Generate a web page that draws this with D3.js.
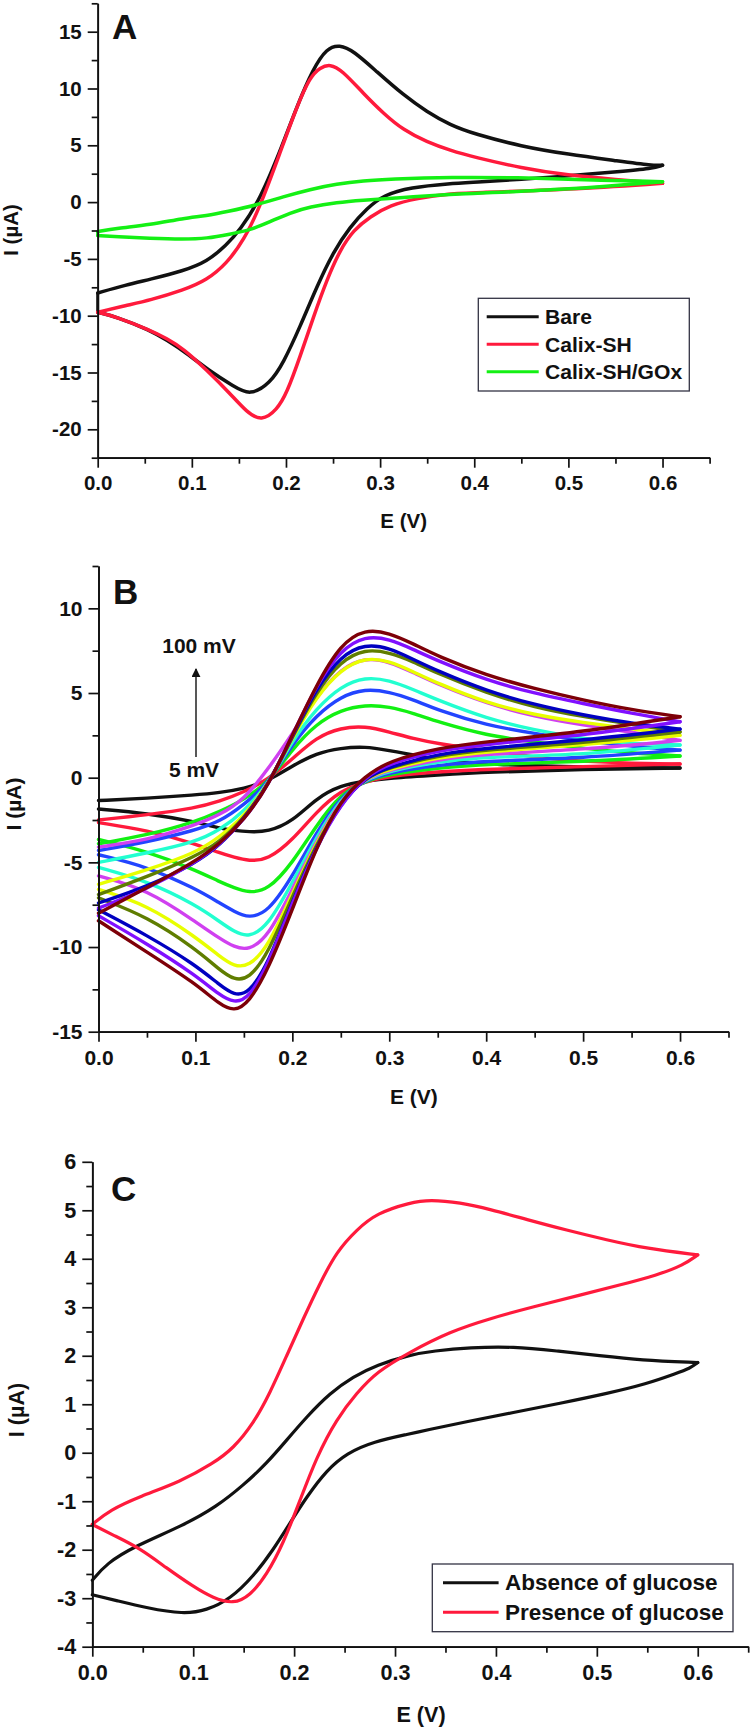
<!DOCTYPE html>
<html>
<head>
<meta charset="utf-8">
<script src="https://cdnjs.cloudflare.com/ajax/libs/d3/7.8.5/d3.min.js"></script>
<style>
  body { margin: 0; background: #fff; }
  svg { display: block; }
  text { font-family: "Liberation Sans", Arial, sans-serif; font-weight: bold; fill: #111; }
</style>
</head>
<body>
<svg width="753" height="1730"></svg>
<script>
// Panel A, each voltammogram as two branches (up = oxidation sweep, down = return sweep)
const eBareUp = [0, .03, .0556, .091, .116, .137, .151, .1725, .197, .2115, .229, .2433, .2568, .2717, .2965, .3248, .3496, .3745, .4, .45, .5, .55, .59, .6]
const iBareUp = [-8, -7.3, -6.8, -6.05, -5.25, -3.78, -2.46, .2, 5.17, 8.4, 11.77, 13.55, 13.85, 13.32, 11.47, 9.42, 7.95, 6.78, 6, 4.9, 4.2, 3.65, 3.2, 3.25]
const eBareDown = [.6, .59, .55, .5, .45, .4, .3745, .332, .3036, .2859, .2681, .2504, .2327, .215, .197, .1831, .1618, .1441, .1193, .0946, .0733, .0556, .02, 0]
const iBareDown = [3.25, 2.95, 2.65, 2.3, 2, 1.75, 1.64, 1.3, .62, -.56, -2.17, -4.37, -7.45, -10.97, -14.2, -15.95, -17.05, -16.2, -14.9, -13.3, -12.15, -11.27, -10.1, -9.7]

const eCalixUp = [0, .03, .0556, .091, .116, .137, .1553, .1725, .1934, .2115, .2256, .2363, .2469, .2593, .2823, .3036, .3248, .3496, .3745, .4, .45, .5, .55, .6]
const iCalixUp = [-9.7, -9.1, -8.63, -7.75, -6.87, -5.4, -3.35, -.4, 4.28, 8.4, 11.03, 11.85, 12.15, 11.62, 9.56, 7.8, 6.34, 5.3, 4.55, 3.95, 3, 2.35, 2, 1.65]
const eCalixDown = [.6, .5, .4, .3745, .339, .3107, .2894, .2717, .2575, .2433, .2292, .215, .2008, .1902, .1742, .1583, .1406, .116, .0911, .0733, .0556, .02, 0]
const iCalixDown = [1.65, 1.1, .82, .76, .33, -.26, -1.28, -2.46, -4.2, -6.86, -10.1, -13.6, -16.84, -18.3, -19.3, -18.5, -16.84, -14.8, -12.9, -12, -11.27, -10.1, -9.7]

const eGoxUp = [0, .02, .0556, .091, .116, .137, .1689, .197, .2256, .2539, .2823, .3107, .3745, .45, .5, .6]
const iGoxUp = [-2.6, -2.3, -2, -1.43, -1.2, -.85, -.26, .47, 1.12, 1.6, 1.88, 2.03, 2.2, 2.15, 2, 1.8]
const eGoxDown = [.6, .5, .3745, .3107, .2823, .2539, .2256, .2043, .1831, .1618, .1406, .116, .0911, .0556, .02, 0]
const iGoxDown = [1.8, 1.1, .7, .33, .17, -.03, -.41, -.94, -1.73, -2.46, -2.82, -3.2, -3.28, -3.2, -3.05, -2.95]

// Panel B, scan rates 5 to 100 mV, shared voltage grids
const eRateUp = [0, .05, .1, .125, .15, .175, .2, .225, .25, .275, .3, .325, .35, .4, .45, .5, .55, .6]
const eRateDown = [0, .05, .1, .125, .14, .155, .175, .2, .225, .25, .275, .3, .35, .4, .5, .6]

const iUp5 = [-1.35, -1.22, -1.02, -.88, -.65, -.2, .7, 1.45, 1.75, 1.85, 1.6, 1.35, 1.05, .8, .7, .62, .6, .57]
const iUp10 = [-2.5, -2.2, -1.8, -1.4, -.85, -.1, 1.1, 2.4, 2.95, 3.05, 2.7, 2.3, 2, 1.63, 1.2, .95, .85, .81]
const iUp20 = [-3.9, -3.4, -2.6, -2, -1.3, -.3, 1.7, 3.2, 4, 4.3, 4.2, 3.8, 3.3, 2.5, 2.1, 1.73, 1.45, 1.28]
const iUp30 = [-4.3, -3.8, -3.1, -2.6, -1.6, -.35, 2, 3.7, 4.8, 5.25, 5.07, 4.6, 4, 3.1, 2.6, 2.2, 1.85, 1.63]
const iUp40 = [-5, -4.45, -3.8, -3.1, -2, -.4, 2.2, 4.1, 5.4, 5.95, 5.76, 5.2, 4.58, 3.5, 2.8, 2.3, 2, 1.93]
const iUp50 = [-4.1, -3.7, -2.8, -2.2, -1.3, .5, 2.6, 4.8, 6.45, 7.1, 6.85, 6.2, 5.52, 4.38, 3.6, 3.1, 2.7, 2.2]
const iUp60 = [-6.3, -5.45, -4.45, -3.5, -2.3, -.4, 2.35, 4.8, 6.4, 7.1, 6.9, 6.25, 5.57, 4.42, 3.7, 3.25, 2.9, 2.5]
const iUp70 = [-6.9, -5.85, -4.65, -3.8, -2.4, -.45, 2.4, 5.1, 6.9, 7.6, 7.4, 6.85, 6.15, 5, 4.15, 3.6, 3.15, 2.7]
const iUp80 = [-7.4, -6.45, -5.05, -4, -2.45, -.45, 2.45, 5.3, 7.2, 7.9, 7.67, 6.98, 6.3, 5.13, 4.3, 3.7, 3.2, 2.87]
const iUp90 = [-7.7, -6.6, -5, -3.95, -2.5, -.5, 2.5, 5.5, 7.55, 8.38, 8.2, 7.57, 6.9, 5.76, 4.97, 4.38, 3.8, 3.3]
const iUp100 = [-8, -6.5, -4.95, -3.9, -2.5, -.5, 2.5, 5.5, 7.9, 8.78, 8.55, 7.9, 7.17, 6.05, 5.25, 4.58, 4, 3.6]

const iDown5 = [-1.85, -2.1, -2.6, -3, -3.12, -3.2, -3.2, -2.6, -1.2, -.45, -.2, -.02, .16, .33, .5, .57]
const iDown10 = [-2.65, -3.1, -3.9, -4.45, -4.7, -4.92, -4.85, -3.7, -2, -.75, -.25, .1, .35, .5, .65, .81]
const iDown20 = [-3.65, -4.35, -5.45, -6.15, -6.5, -6.8, -6.65, -5.05, -2.8, -.95, -.2, .2, .57, .8, .94, 1.28]
const iDown30 = [-4.55, -5.25, -6.55, -7.4, -7.9, -8.3, -7.95, -5.85, -3.2, -1.1, -.15, .3, .75, .98, 1.16, 1.63]
const iDown40 = [-5.3, -6.1, -7.5, -8.5, -9.1, -9.45, -8.75, -6.2, -3.5, -1.2, -.1, .4, .95, 1.24, 1.34, 1.93]
const iDown50 = [-5.8, -6.6, -8.5, -9.5, -10, -10.2, -9.4, -6.6, -3.7, -1.3, -.05, .45, 1.08, 1.4, 1.65, 2.2]
const iDown60 = [-6.6, -7.5, -9.4, -10.55, -11.15, -11.15, -10, -6.85, -3.8, -1.4, 0, .5, 1.2, 1.54, 1.93, 2.5]
const iDown70 = [-7.1, -8.2, -10.1, -11.35, -11.95, -11.9, -10.4, -7, -3.9, -1.45, 0, .6, 1.3, 1.65, 2.05, 2.7]
const iDown80 = [-7.8, -9.3, -11.05, -12.25, -12.85, -12.75, -11, -7.3, -4, -1.5, .02, .65, 1.4, 1.75, 2.2, 2.87]
const iDown90 = [-8.15, -9.8, -11.65, -12.85, -13.3, -13.05, -11.05, -7.4, -4.05, -1.55, .05, .85, 1.6, 1.98, 2.5, 3.3]
const iDown100 = [-8.45, -10.3, -12.15, -13.4, -13.8, -13.3, -11.35, -7.8, -4.05, -1.3, .08, 1, 1.75, 2.13, 2.7, 3.6]

// Panel C
const eAbsentUp = [0, .0143, .0407, .0902, .1233, .1497, .1728, .1926, .2124, .2355, .2587, .2818, .3149, .338, .3743, .4173, .4602, .5032, .5429, .6]
const iAbsentUp = [-2.63, -2.28, -1.94, -1.5, -1.11, -.67, -.22, .26, .74, 1.23, 1.57, 1.81, 2.02, 2.1, 2.17, 2.19, 2.1, 2, 1.91, 1.86]
const eAbsentDown = [.6, .5922, .579, .5493, .5097, .4635, .4173, .3711, .3314, .3149, .2785, .2521, .2322, .2124, .1959, .1794, .1596, .1365, .1133, .0902, .0539, .0241, 0]
const iAbsentDown = [1.86, 1.74, 1.64, 1.42, 1.22, 1.02, .83, .64, .47, .39, .23, -.01, -.36, -.91, -1.45, -2, -2.55, -3.02, -3.25, -3.33, -3.2, -3.05, -2.93]

const ePresentUp = [0, .0175, .0473, .0869, .1199, .1398, .1596, .1761, .1926, .2092, .2257, .2422, .262, .2818, .3149, .3347, .3644, .3942, .4305, .4701, .5097, .5493, .6]
const iPresentUp = [-1.48, -1.18, -.9, -.6, -.22, .09, .6, 1.23, 2, 2.77, 3.5, 4.15, 4.6, 4.94, 5.16, 5.22, 5.16, 5.02, 4.81, 4.59, 4.39, 4.21, 4.08]
const ePresentDown = [.6, .5858, .5594, .523, .4833, .4371, .3942, .3545, .3149, .2818, .262, .2422, .2224, .2059, .1893, .1728, .1563, .1398, .1199, .1, .0737, .0473, .0208, 0]
const iPresentDown = [4.08, 3.87, 3.66, 3.46, 3.25, 3.01, 2.77, 2.5, 2.08, 1.67, 1.23, .7, -.08, -.98, -1.87, -2.52, -2.95, -3.12, -3, -2.76, -2.38, -1.97, -1.7, -1.48]

const xTicks = [0, .1, .2, .3, .4, .5, .6]
const xMinor = [.05, .15, .25, .35, .45, .55, .65]

const svg = d3.select('svg')

function branch(e, i) {
    return d3.zip(e, i)
}

function drawPanel(p) {
    const x = d3.scaleLinear().domain([0, .65]).range([p.left, p.right])
    const y = d3.scaleLinear().domain(p.yDomain).range([p.bottom, p.top])
    const g = svg.append('g')

    const line = d3.line()
        .x(d => x(d[0]))
        .y(d => y(d[1]))
        .curve(d3.curveBasis)

    p.series.forEach(s => {
        g.append('path')
            .attr('d', d3.line().x(d => x(d[0])).y(d => y(d[1]))([s.up[0], s.down[s.down.length - 1]]))
            .attr('stroke', s.color)
            .attr('stroke-width', p.closeWidth)
        ;[s.up, s.down].forEach(b => {
            g.append('path')
                .attr('d', line(b))
                .attr('fill', 'none')
                .attr('stroke', s.color)
                .attr('stroke-width', p.lineWidth)
                .attr('stroke-linecap', 'round')
                .attr('stroke-linejoin', 'round')
        })
    })

    const xAxis = d3.axisBottom(x).tickValues(xTicks).tickFormat(d3.format('.1f')).tickSize(10).tickSizeOuter(0).tickPadding(8)
    const xAxisMinor = d3.axisBottom(x).tickValues(xMinor).tickFormat('').tickSize(6).tickSizeOuter(0)
    const yAxis = d3.axisLeft(y).tickValues(p.yTicks).tickFormat(d => String(d)).tickSize(10).tickSizeOuter(0).tickPadding(6)
    const yAxisMinor = d3.axisLeft(y).tickValues(p.yMinor).tickFormat('').tickSize(6).tickSizeOuter(0)

    ;[xAxis, xAxisMinor].forEach(a => g.append('g').attr('class', 'axis').attr('transform', `translate(0,${p.bottom})`).call(a))
    ;[yAxis, yAxisMinor].forEach(a => g.append('g').attr('class', 'axis').attr('transform', `translate(${p.left},0)`).call(a))

    g.selectAll('.axis path, .axis line').attr('stroke', '#111').attr('stroke-width', 1.7)
    g.selectAll('.axis text').attr('font-size', p.font).style('fill', '#111')

    g.append('text').attr('x', p.xLabel[0]).attr('y', p.xLabel[1]).attr('text-anchor', 'middle').attr('font-size', p.font).text('E (V)')
    g.append('text').attr('transform', `translate(${p.yLabel[0]},${p.yLabel[1]}) rotate(-90)`).attr('text-anchor', 'middle').attr('font-size', p.font).text('I (µA)')
    g.append('text').attr('x', p.letter[0]).attr('y', p.letter[1]).attr('font-size', 35).text(p.name)

    if (p.legend) {
        const l = p.legend
        g.append('rect')
            .attr('x', l.x).attr('y', l.y).attr('width', l.w).attr('height', l.h)
            .attr('fill', '#fff').attr('stroke', '#334').attr('stroke-width', 1.3)
        p.series.forEach((s, k) => {
            const ly = l.first + k * l.step
            g.append('line').attr('x1', l.lineX[0]).attr('x2', l.lineX[1]).attr('y1', ly).attr('y2', ly)
                .attr('stroke', s.color).attr('stroke-width', 3)
            g.append('text').attr('x', l.textX).attr('y', ly + 7.6).attr('font-size', l.size).text(s.name)
        })
    }
}

drawPanel({
    name: 'A', left: 97.7, right: 709.6, top: 3.3, bottom: 457.7, yDomain: [-22.5, 17.5], font: 20.5,
    yTicks: [-20, -15, -10, -5, 0, 5, 10, 15], yMinor: [-22.5, -17.5, -12.5, -7.5, -2.5, 2.5, 7.5, 12.5, 17.5],
    xLabel: [403.7, 528], yLabel: [18, 230], letter: [112, 39], lineWidth: 3.5, closeWidth: 3,
    series: [
        { name: 'Bare', color: '#111', up: branch(eBareUp, iBareUp), down: branch(eBareDown, iBareDown) },
        { name: 'Calix-SH', color: '#ff1a3c', up: branch(eCalixUp, iCalixUp), down: branch(eCalixDown, iCalixDown) },
        { name: 'Calix-SH/GOx', color: '#14f014', up: branch(eGoxUp, iGoxUp), down: branch(eGoxDown, iGoxDown) }
    ],
    legend: { x: 478.3, y: 298.3, w: 211, h: 92.7, first: 316.7, step: 27.5, lineX: [486.7, 538.7], textX: 545, size: 21.1 }
})

const rateColors = ['#111', '#ff1a3c', '#12f012', '#2244ff', '#22ffd0', '#d040f0', '#e8ff00', '#5f7d00', '#0000c0', '#8010ff', '#7d0008']
const ratesUp = [iUp5, iUp10, iUp20, iUp30, iUp40, iUp50, iUp60, iUp70, iUp80, iUp90, iUp100]
const ratesDown = [iDown5, iDown10, iDown20, iDown30, iDown40, iDown50, iDown60, iDown70, iDown80, iDown90, iDown100]

drawPanel({
    name: 'B', left: 98.5, right: 728.5, top: 566, bottom: 1031.7, yDomain: [-15, 12.5], font: 21,
    yTicks: [-15, -10, -5, 0, 5, 10], yMinor: [-12.5, -7.5, -2.5, 2.5, 7.5, 12.5],
    xLabel: [413.8, 1104], yLabel: [21, 804], letter: [113, 604], lineWidth: 3.4, closeWidth: 1,
    series: ratesUp.map((u, k) => ({
        color: rateColors[k],
        up: branch(eRateUp, u),
        down: branch(eRateDown, ratesDown[k]).reverse()
    }))
})

drawPanel({
    name: 'C', left: 92.3, right: 748.2, top: 1161.8, bottom: 1646.7, yDomain: [-4, 6], font: 21.6,
    yTicks: [-4, -3, -2, -1, 0, 1, 2, 3, 4, 5, 6], yMinor: [-3.5, -2.5, -1.5, -.5, .5, 1.5, 2.5, 3.5, 4.5, 5.5],
    xLabel: [421, 1721.7], yLabel: [24, 1410], letter: [111, 1200.7], lineWidth: 3.2, closeWidth: 2,
    series: [
        { name: 'Absence of glucose', color: '#111', up: branch(eAbsentUp, iAbsentUp), down: branch(eAbsentDown, iAbsentDown) },
        { name: 'Presence of glucose', color: '#ff1a3c', up: branch(ePresentUp, iPresentUp), down: branch(ePresentDown, iPresentDown) }
    ],
    legend: { x: 432.3, y: 1564, w: 300.7, h: 67.7, first: 1582.7, step: 29.5, lineX: [443, 498.6], textX: 505, size: 22.5 }
})

// scan rate note in panel B
svg.append('defs').append('marker')
    .attr('id', 'head').attr('viewBox', '0 0 10 10').attr('refX', 9).attr('refY', 5)
    .attr('markerWidth', 9).attr('markerHeight', 9).attr('markerUnits', 'userSpaceOnUse').attr('orient', 'auto')
    .append('path').attr('d', 'M0,0L10,5L0,10Z').attr('fill', '#111')
svg.append('line').attr('x1', 196).attr('x2', 196).attr('y1', 757).attr('y2', 669)
    .attr('stroke', '#111').attr('stroke-width', 1.4).attr('marker-end', 'url(#head)')
svg.append('text').attr('x', 199).attr('y', 653).attr('text-anchor', 'middle').attr('font-size', 21).text('100 mV')
svg.append('text').attr('x', 194).attr('y', 777).attr('text-anchor', 'middle').attr('font-size', 21).text('5 mV')
</script>
</body>
</html>
